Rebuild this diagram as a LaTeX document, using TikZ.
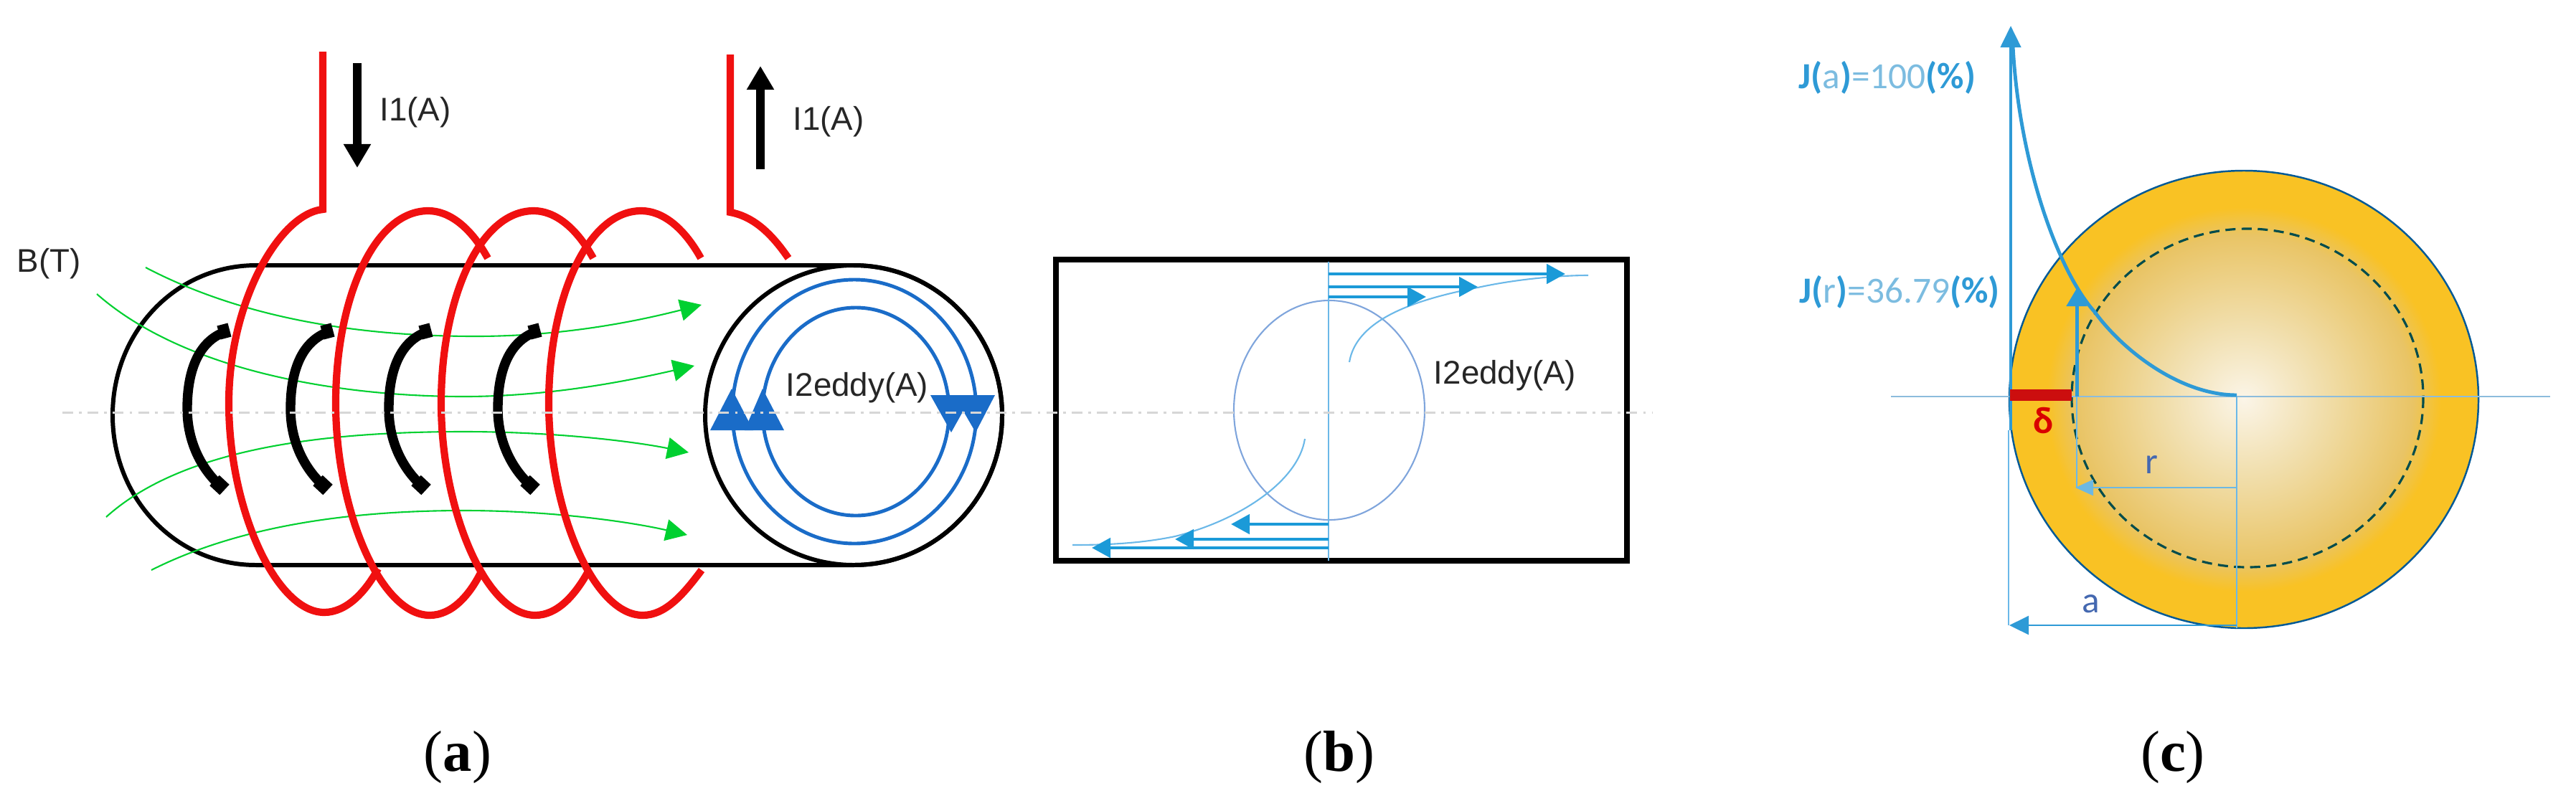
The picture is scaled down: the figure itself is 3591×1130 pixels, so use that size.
\documentclass[tikz,border=0pt]{standalone}
\usepackage{fontspec}
\setmainfont{Liberation Sans}
\newfontfamily\calfont{Carlito}
\newfontfamily\capfont{Liberation Serif}
\usepackage{xcolor}
\usepackage{tikz}
\usetikzlibrary{arrows.meta}
\definecolor{coilred}{HTML}{F01010}
\definecolor{fieldgreen}{HTML}{00D030}
\definecolor{ringblue}{HTML}{1A6CC8}
\definecolor{eddyblue}{HTML}{1B9AD8}
\definecolor{curveblue}{HTML}{6BB8E8}
\definecolor{ovalblue}{HTML}{7FA5DC}
\definecolor{axisblue}{HTML}{8CBCDC}
\definecolor{jblue}{HTML}{2E9AD6}
\definecolor{jpale}{HTML}{7CBCE0}
\definecolor{letterblue}{HTML}{4468B0}
\definecolor{skin}{HTML}{F9C224}
\definecolor{coreA}{HTML}{FBF5E8}
\definecolor{coreB}{HTML}{F1DFAE}
\definecolor{coreC}{HTML}{E9C465}
\pgfdeclareradialshading{coreglow}{\pgfpointorigin}{color(0bp)=(coreA); color(8bp)=(coreB); color(18bp)=(coreC); color(21bp)=(skin); color(50bp)=(skin)}
\tikzstyle{coil}=[draw=coilred,line width=2.9pt]
\tikzstyle{tube}=[draw=black,line width=1.7pt]
\tikzstyle{flux}=[draw=fieldgreen,line width=.6pt,-{Triangle[length=.3cm,width=.3cm]}]
\tikzstyle{ring}=[draw=ringblue,line width=1.4pt]
\tikzstyle{current}=[draw=black,line width=3.4pt,-{Triangle[length=.33cm,width=.36cm]}]
\tikzstyle{eddy}=[draw=eddyblue,line width=1.4pt,-{Triangle[length=.26cm,width=.27cm]}]
\tikzstyle{thin}=[draw=curveblue,line width=.6pt]
\tikzstyle{sans}=[inner sep=0pt,text=black!85,font=\fontsize{13}{13}\selectfont]
\tikzstyle{jtext}=[inner sep=0pt,font=\calfont\fontsize{14.6}{15}\selectfont]
\tikzstyle{caption}=[inner sep=0pt,font=\capfont\fontsize{23}{23}\selectfont]
\newcommand{\jb}[1]{\textcolor{jblue}{\bfseries #1}}
\newcommand{\jp}[1]{\textcolor{jpale}{#1}}

\begin{document}
\begin{tikzpicture}[x=.01cm,y=-.01cm]
        \useasboundingbox (0,0) rectangle (3591,1130);
        % (a) tube and end face
        \draw[tube] (357,370) -- (1190,370) arc (-90:90:207 and 209) -- (357,788)
                .. controls (245,788) and (157,695) .. (157,579)
                .. controls (157,463) and (245,370) .. (357,370);
        \draw[tube] (1190,579) circle (207 and 209);
        \draw[ring] (1191,574) circle (170 and 184);
        \draw[ring] (1193,574) circle (130 and 145);
        \foreach \x/\b/\e in {1020/990/1050,1063/1038/1093} \fill[ringblue] (\x,542) -- (\b,600) -- (\e,600) -- cycle;
        \foreach \x/\b/\e in {1326/1297/1355,1360/1330/1387} \fill[ringblue] (\x,603) -- (\b,551) -- (\e,551) -- cycle;
        % flux lines
        \draw[flux] (203,373) .. controls (350,450) and (520,469) .. (663,469) .. controls (780,469) and (880,450) .. (978,425);
        \draw[flux] (135,410) .. controls (260,520) and (480,553) .. (647,553) .. controls (770,553) and (880,530) .. (968,510);
        \draw[flux] (148,721) .. controls (260,620) and (470,602) .. (647,602) .. controls (770,602) and (880,615) .. (960,631);
        \draw[flux] (211,795) .. controls (340,730) and (500,712) .. (647,712) .. controls (770,712) and (880,728) .. (958,746);
        % induced loops
        \foreach \dx in {0,144,281,433} {
          \draw[line width=3.8pt] (319+\dx,461) .. controls (270+\dx,475) and (261+\dx,530) .. (261+\dx,570)
                .. controls (261+\dx,615) and (280+\dx,655) .. (311+\dx,681);
          \draw[line width=5.6pt] (305+\dx,464) -- (320+\dx,460);
          \draw[line width=5.6pt] (299+\dx,670) -- (313+\dx,683);
        }
        % coil
        \draw[coil] (450,72) -- (450,292) .. controls (390,298) and (319,420) .. (319,562)
                .. controls (319,710) and (385,854) .. (452,854) .. controls (483,854) and (510,825) .. (527,793);
        \foreach \dx/\ex in {0/0,147/2,297/9}
          \draw[coil] (680+\dx,360) .. controls (655+\dx,315) and (625+\dx,294) .. (597+\dx,294)
                .. controls (520+\dx,294) and (468+\dx,420) .. (468+\dx,562)
                .. controls (468+\dx,710) and (530+\dx,858) .. (599+\dx,858)
                .. controls (630+\dx,858) and (655+\dx,830) .. (672+\dx+\ex,795);
        \draw[coil] (1018,76) -- (1018,296) .. controls (1050,302) and (1075,325) .. (1099,360);
        \draw[current] (498,88) -- (498,234);
        \draw[current] (1060,236) -- (1060,92);
        % (b) section
        \draw[line width=2.3pt] (1472,362) rectangle (2268,782);
        \draw[draw=ovalblue,line width=.6pt] (1853,572) ellipse (133 and 153);
        \draw[thin] (1881,505) .. controls (1890,450) and (1960,420) .. (2060,401) .. controls (2110,390) and (2170,384) .. (2214,384);
        \draw[thin] (1819,612) .. controls (1810,670) and (1730,725) .. (1638,748) .. controls (1590,758) and (1540,760) .. (1495,760);
        \draw[thin] (1852,365) -- (1852,782);
        \foreach \y/\tip in {382/2182,400/2060,414/1988,731/1716,752/1638,764/1522}
          \draw[eddy] (1852,\y) -- (\tip,\y);
        % (c) cross section
        \shade[shading=coreglow] (3128,557) ellipse (327 and 319);
        \draw[draw=black!20!blue!30!teal,line width=.7pt] (3128,557) ellipse (327 and 319);
        \draw[draw=teal!60!black,line width=.9pt,dash pattern=on 4pt off 2.4pt] (3133,555) ellipse (245 and 236);
        \draw[draw=axisblue,line width=.7pt] (2636,553) -- (3555,553);
        \draw[thin,line width=.6pt] (3118,553) -- (3118,876);
        \draw[thin,line width=.6pt] (2800,600) -- (2800,872);
        \draw[thin,line width=.6pt] (2895,553) -- (2895,680);
        \draw[draw=jblue,line width=1.3pt,-{Triangle[length=.3cm,width=.28cm]}] (2803,600) -- (2803,36);
        \draw[draw=jblue,line width=1.4pt,-{Triangle[length=.25cm,width=.28cm]}] (2895,553) -- (2895,402);
        \draw[draw=jblue,line width=.7pt,-{Triangle[length=.27cm,width=.26cm]}] (3118,872) -- (2801,872);
        \draw[draw=jblue!70,line width=.7pt,-{Triangle[length=.25cm,width=.22cm]}] (3118,680) -- (2893,680);
        \draw[draw=jblue,line width=1.4pt] (2806,65) .. controls (2815,230) and (2870,380) .. (2920,435)
                .. controls (2960,490) and (3040,551) .. (3118,551);
        \draw[draw=coilred!85!black,line width=4.6pt] (2802,551) -- (2888,551);
        % centre line
        \draw[draw=black!16,line width=.85pt,dash pattern=on 4.3pt off 2.3pt on 1.1pt off 2.3pt] (87,575) -- (2303,575);
        % labels
        \node at (68,368) [sans] (bfield) {B(T)};
        \node at (579,157) [sans] (iin) {I1(A)};
        \node at (1155,170) [sans] (iout) {I1(A)};
        \node at (1195,541) [sans] (ringlabel) {I2eddy(A)};
        \node at (2098,524) [sans] (seclabel) {I2eddy(A)};
        \node at (2631,108) [jtext] (jsurface) {\jb{J(}\jp{a}\jb{)}\jp{=100}\jb{(\%)}};
        \node at (2648,407) [jtext] (jdepth) {\jb{J(}\jp{r}\jb{)}\jp{=36.79}\jb{(\%)}};
        \node at (2849,587) [jtext,text=red!85!black,font=\calfont\bfseries\fontsize{15}{15}\selectfont] (depth) {δ};
        \node at (2999,648) [jtext,text=letterblue] (rlabel) {r};
        \node at (2915,842) [jtext,text=letterblue] (alabel) {a};
        \node at (638,1056) [caption] (capa) {(\textbf{a})};
        \node at (1867,1056) [caption] (capb) {(\textbf{b})};
        \node at (3029,1056) [caption] (capc) {(\textbf{c})};
      \end{tikzpicture}
\end{document}
